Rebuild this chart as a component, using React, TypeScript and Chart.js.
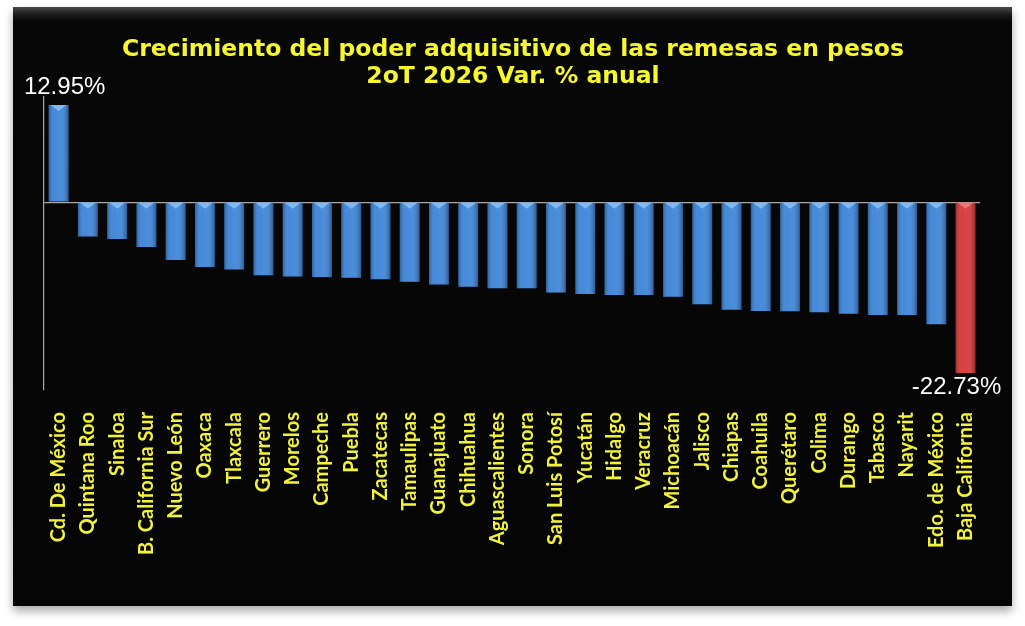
import React, { useEffect, useRef } from "react";
import { Chart, registerables } from "chart.js";

Chart.register(...registerables);

const states: string[] = [
  "Cd. De México", "Quintana Roo", "Sinaloa", "B. California Sur", "Nuevo León",
  "Oaxaca", "Tlaxcala", "Guerrero", "Morelos", "Campeche", "Puebla", "Zacatecas",
  "Tamaulipas", "Guanajuato", "Chihuahua", "Aguascalientes", "Sonora",
  "San Luis Potosí", "Yucatán", "Hidalgo", "Veracruz", "Michoacán", "Jalisco",
  "Chiapas", "Coahuila", "Querétaro", "Colima", "Durango", "Tabasco", "Nayarit",
  "Edo. de México", "Baja California",
];

const values: number[] = [
  12.95, -4.55, -4.89, -5.96, -7.7, -8.64, -8.96, -9.71, -9.89, -9.95, -10.07,
  -10.24, -10.6, -10.96, -11.27, -11.44, -11.45, -12.03, -12.21, -12.34, -12.36,
  -12.57, -13.58, -14.31, -14.48, -14.5, -14.65, -14.84, -15.01, -15.03, -16.26,
  -22.73,
];

const labelledStates: string[] = ["Cd. De México", "Baja California"];
const highlightedStates: string[] = ["Baja California"];

const titleLines: string[] = [
  "Crecimiento del poder adquisitivo de las remesas en pesos",
  "2oT 2026 Var. % anual",
];

const BLUE = "#3b84d8";
const RED = "#d63636";

const valueLabels = {
  id: "valueLabels",
  afterDatasetsDraw(chart: any) {
    const ctx = chart.ctx;
    const meta = chart.getDatasetMeta(0);
    ctx.save();
    ctx.font = "24px 'Liberation Sans', Arial, sans-serif";
    ctx.fillStyle = "#ffffff";
    ctx.textAlign = "center";
    states.forEach((s, i) => {
      if (!labelledStates.includes(s)) return;
      const el = meta.data[i];
      const v = values[i];
      const text = v.toFixed(2) + "%";
      if (v >= 0) {
        ctx.textBaseline = "bottom";
        ctx.fillText(text, el.x + 6, el.y - 6);
      } else {
        ctx.textBaseline = "top";
        ctx.fillText(text, el.x - 9, el.y + 2);
      }
    });
    ctx.restore();
  },
};

const barShading = {
  id: "barShading",
  afterDatasetDraw(chart: any) {
    const ctx = chart.ctx;
    const meta = chart.getDatasetMeta(0);
    ctx.save();
    meta.data.forEach((el: any, i: number) => {
      const w = el.width;
      const left = el.x - w / 2;
      const right = el.x + w / 2;
      const top = Math.min(el.y, el.base);
      const bottom = Math.max(el.y, el.base);
      const g = ctx.createLinearGradient(left, 0, right, 0);
      g.addColorStop(0, "rgba(0,0,0,0.28)");
      g.addColorStop(0.3, "rgba(255,255,255,0.05)");
      g.addColorStop(0.6, "rgba(255,255,255,0.08)");
      g.addColorStop(1, "rgba(0,0,0,0.3)");
      ctx.fillStyle = g;
      ctx.fillRect(left, top, w, bottom - top);
      const red = highlightedStates.includes(states[i]);
      ctx.fillStyle = red ? "rgba(255,150,150,0.6)" : "rgba(150,205,255,0.7)";
      ctx.beginPath();
      ctx.moveTo(left + 2, top);
      ctx.lineTo(right - 2, top);
      ctx.lineTo(el.x, top + 6);
      ctx.closePath();
      ctx.fill();
    });
    ctx.restore();
  },
};

export default function App() {
  const canvasRef = useRef<HTMLCanvasElement | null>(null);

  useEffect(() => {
    if (!canvasRef.current) return;
    const chart = new Chart(canvasRef.current, {
      type: "bar",
      data: {
        labels: states,
        datasets: [
          {
            data: values,
            backgroundColor: states.map((s) => (highlightedStates.includes(s) ? RED : BLUE)),
            borderWidth: 0,
            barPercentage: 0.68,
            categoryPercentage: 1,
          },
        ],
      },
      options: {
        animation: false,
        responsive: true,
        maintainAspectRatio: false,
        layout: { padding: { left: 31, right: 30, top: 0, bottom: 0 } },
        plugins: {
          legend: { display: false },
          tooltip: { enabled: false },
          title: {
            display: true,
            text: titleLines,
            color: "#f7f72e",
            font: { family: "'DejaVu Sans', Verdana, sans-serif", size: 23.5, weight: "bold", lineHeight: 1.15 },
            padding: { top: 29, bottom: 7 },
          },
        },
        scales: {
          x: {
            grid: { display: false, drawTicks: false },
            border: { display: false },
            ticks: {
              color: "#f2f23a",
              font: { family: "Lato, 'Open Sans', sans-serif", size: 20, weight: "bold" },
              minRotation: 90,
              maxRotation: 90,
              autoSkip: false,
              padding: 22,
            },
            afterFit: (s: any) => {
              s.height = 216;
            },
          },
          y: {
            min: -25,
            max: 14,
            ticks: { display: false, stepSize: 5 },
            grid: {
              drawTicks: false,
              color: (c: any) => (c.tick && c.tick.value === 0 ? "#a8a8a8" : "rgba(0,0,0,0)"),
              lineWidth: 1.2,
            },
            border: { display: true, color: "#a8a8a8", width: 1.2 },
            afterFit: (s: any) => {
              s.width = 0;
            },
          },
        },
      },
      plugins: [barShading, valueLabels],
    });
    return () => chart.destroy();
  }, []);

  return (
    <div style={{ position: "relative", width: 1025, height: 626, background: "#ffffff" }}>
      <style>{"body{margin:0}"}</style>
      <div
        style={{
          position: "absolute",
          left: 13,
          top: 7,
          width: 999,
          height: 599,
          background: "linear-gradient(to bottom, #4c4c4c 0px, #1c1c1c 7px, #070707 15px, #050505 100%)",
          boxShadow: "0 5px 9px rgba(0,0,0,0.35)",
        }}
      >
        <canvas ref={canvasRef} />
      </div>
    </div>
  );
}
